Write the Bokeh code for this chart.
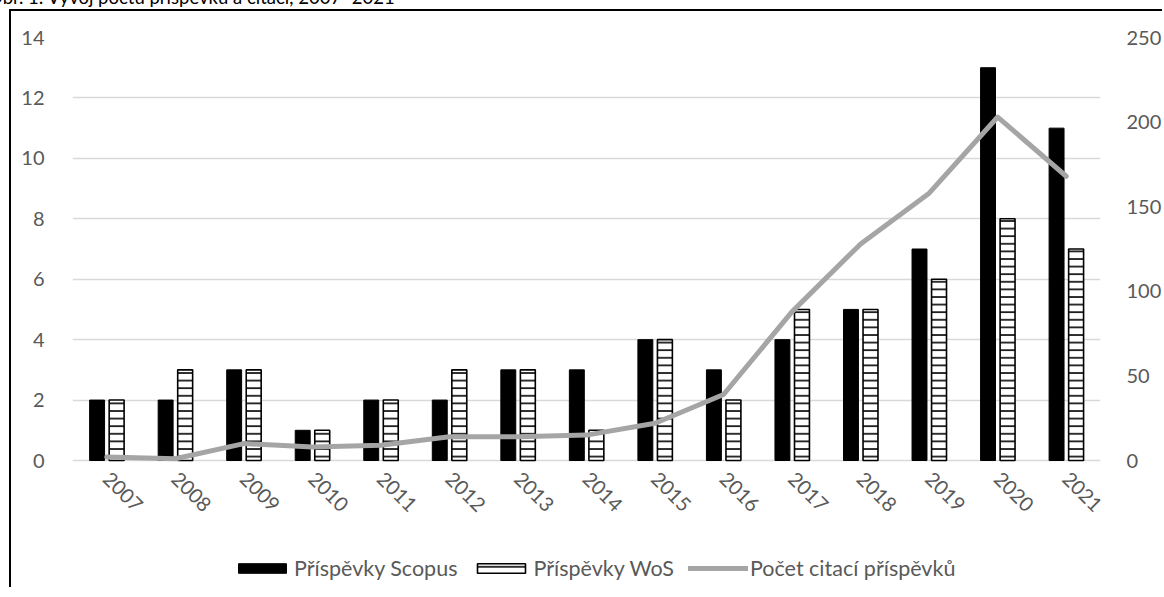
from bokeh.plotting import figure
from bokeh.models import (Range1d, LinearAxis, Legend, LegendItem,
                          Div, ColumnDataSource, FixedTicker)
from bokeh.core.properties import value
from bokeh.layouts import column
from bokeh.transform import dodge
from bokeh.embed import file_html
from bokeh.resources import INLINE

# ---- data ----
years = [str(y) for y in range(2007, 2022)]
scopus = [2, 2, 3, 1, 2, 2, 3, 3, 4, 3, 4, 5, 7, 13, 11]
wos = [2, 3, 3, 1, 2, 3, 3, 1, 4, 2, 5, 5, 6, 8, 7]
citations = [2, 1, 10, 8, 9, 14, 14, 15, 22, 39, 88, 128, 158, 203, 168]
left_ticks = [0, 2, 4, 6, 8, 10, 12, 14]
right_ticks = [0, 50, 100, 150, 200, 250]
title_text = "Obr. 1: Vývoj počtu příspěvků a citací, 2007–2021"
series_names = ["Příspěvky Scopus", "Příspěvky WoS", "Počet citací příspěvků"]

FONT = "Lato"
LABEL_COLOR = "#595959"
FS = "20px"
LEGEND_FS = "21.5px"

# layout constants (pixels)
W, H = 1153, 578
TOP, LEFT, RIGHT = 26, 61, 61
PLOT_H = 423                 # height of the 0..max value band
FRAME_H = H - TOP            # frame reaches the bottom, room for labels/legend
LEFT_MAX, RIGHT_MAX = 14, 250
left_start = LEFT_MAX - LEFT_MAX * FRAME_H / PLOT_H
right_start = RIGHT_MAX - RIGHT_MAX * FRAME_H / PLOT_H

n = len(years)
idx = list(range(n))   # category index of each year
src = ColumnDataSource(dict(x=idx, years=years, scopus=scopus, wos=wos, cit=citations))

p = figure(x_range=Range1d(-0.5, n - 0.5), y_range=Range1d(left_start, LEFT_MAX),
           x_axis_location=None,
           width=W, height=H, output_backend="svg", toolbar_location=None,
           min_border_left=LEFT, min_border_right=RIGHT, min_border_top=TOP,
           min_border_bottom=0, background_fill_color="white",
           border_fill_color="white", outline_line_color=None,
           margin=(0, 0, 0, 9),
           styles={"border-left": "2px solid black", "border-top": "2px solid black"})
p.extra_y_ranges = {"cit": Range1d(right_start, RIGHT_MAX)}

p.xgrid.grid_line_color = None
p.ygrid.grid_line_color = "#d9d9d9"
p.ygrid.grid_line_width = 1.5

b1 = p.vbar(x=dodge("x", -0.141), top="scopus", bottom=0, width=0.218,
            source=src, fill_color="black", line_color="black", line_width=1)
b2 = p.vbar(x=dodge("x", 0.144), top="wos", bottom=0, width=0.218,
            source=src, fill_color="white", line_color="black", line_width=1.6,
            hatch_pattern="horizontal_line", hatch_color="black",
            hatch_weight=1.6, hatch_scale=7.6)
l1 = p.line(x="x", y="cit", source=src, y_range_name="cit",
            line_color="#a5a5a5", line_width=5, line_cap="round", line_join="round")

# rotated year labels under the category axis
p.text(x=dodge("x", 0.067), y=0, text="years", source=src,
       angle=-0.785398, text_align="left", text_baseline="top", y_offset=10,
       text_font=value(FONT), text_font_size=value(FS), text_color=LABEL_COLOR)

# left axis
ya = p.yaxis[0]
ya.ticker = FixedTicker(ticks=left_ticks)
ya.axis_line_color = None
ya.major_tick_line_color = None
ya.minor_tick_line_color = None
ya.major_label_standoff = 22
ya.major_label_text_font = FONT
ya.major_label_text_font_size = FS
ya.major_label_text_color = LABEL_COLOR

# right axis
ra = LinearAxis(y_range_name="cit", ticker=FixedTicker(ticks=right_ticks))
ra.axis_line_color = None
ra.major_tick_line_color = None
ra.minor_tick_line_color = None
ra.major_label_standoff = 20
ra.major_label_text_font = FONT
ra.major_label_text_font_size = FS
ra.major_label_text_color = LABEL_COLOR
p.add_layout(ra, "right")

legend = Legend(items=[LegendItem(label=series_names[0], renderers=[b1]),
                       LegendItem(label=series_names[1], renderers=[b2]),
                       LegendItem(label=series_names[2], renderers=[l1])],
                orientation="horizontal", location=(160, 8),
                glyph_width=60, glyph_height=12, label_standoff=2, spacing=14,
                padding=0, margin=0, border_line_color=None,
                background_fill_alpha=0,
                label_text_font=FONT, label_text_font_size=LEGEND_FS,
                label_text_color=LABEL_COLOR)
p.add_layout(legend, "center")

title = Div(text=title_text, width=700, height=24, margin=(-15, 0, 0, -12),
            styles={"font-family": "Lato", "font-size": "18.5px", "line-height": "24px",
                    "color": "black", "white-space": "nowrap"})

layout = column(title, p, spacing=0)

open("out.html", "w").write(file_html(layout, INLINE))
